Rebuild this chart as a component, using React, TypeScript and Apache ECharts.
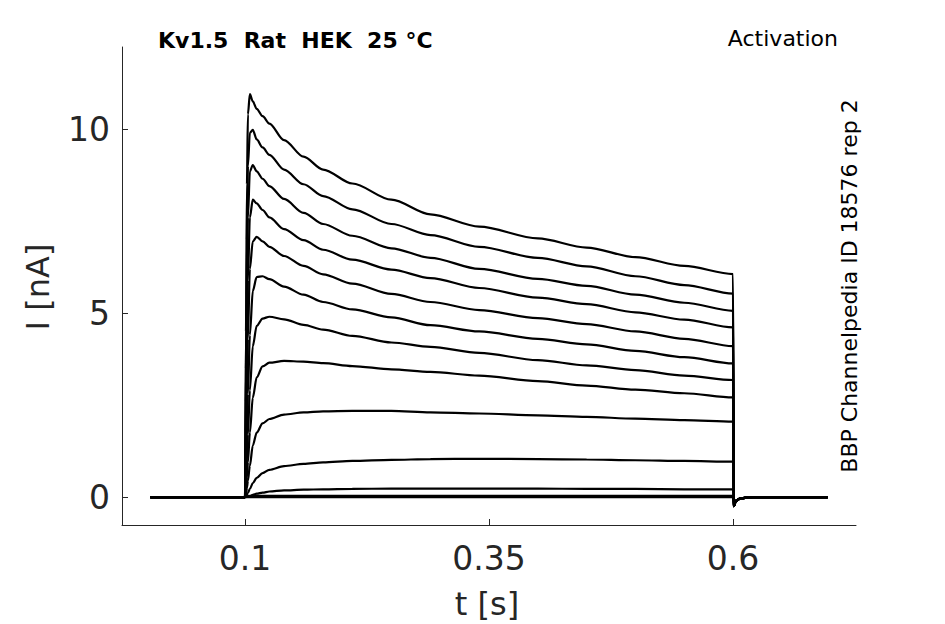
import React, { useEffect, useRef } from "react";
import * as echarts from "echarts";

// time samples during the voltage step (s)
const pulseTimes = [0.1, 0.101, 0.102, 0.103, 0.105, 0.108, 0.112, 0.118, 0.125, 0.14, 0.16, 0.18, 0.21, 0.25, 0.29, 0.34, 0.4, 0.45, 0.5, 0.55, 0.6];

// current traces (nA), one per step potential
const trace1 = [0, 4.5, 8.5, 10.4, 10.95, 10.75, 10.55, 10.35, 10.15, 9.7, 9.25, 8.9, 8.52, 8.08, 7.68, 7.35, 7.03, 6.78, 6.52, 6.28, 6.06];
const trace2 = [0, 3.5, 7.0, 9.0, 9.9, 9.98, 9.72, 9.5, 9.3, 8.9, 8.5, 8.18, 7.82, 7.42, 7.12, 6.8, 6.5, 6.27, 6.0, 5.76, 5.53];
const trace3 = [0, 2.6, 5.5, 7.6, 8.85, 9.02, 8.85, 8.65, 8.45, 8.1, 7.72, 7.42, 7.1, 6.76, 6.5, 6.2, 5.93, 5.74, 5.5, 5.28, 5.06];
const trace4 = [0, 1.8, 4.0, 5.9, 7.6, 8.08, 7.98, 7.8, 7.6, 7.28, 6.98, 6.72, 6.45, 6.18, 5.95, 5.68, 5.42, 5.24, 5.02, 4.82, 4.61];
const trace5 = [0, 1.2, 2.8, 4.3, 6.2, 6.95, 7.07, 6.95, 6.8, 6.55, 6.28, 6.05, 5.8, 5.52, 5.3, 5.08, 4.86, 4.7, 4.5, 4.3, 4.1];
const trace6 = [0, 0.7, 1.7, 2.8, 4.4, 5.6, 5.98, 6.0, 5.92, 5.72, 5.5, 5.3, 5.1, 4.88, 4.67, 4.5, 4.3, 4.15, 3.97, 3.8, 3.63];
const trace7 = [0, 0.4, 1.0, 1.7, 2.9, 4.1, 4.65, 4.85, 4.9, 4.83, 4.68, 4.55, 4.38, 4.2, 4.08, 3.92, 3.72, 3.58, 3.45, 3.3, 3.18];
const trace8 = [0, 0.2, 0.55, 0.95, 1.75, 2.7, 3.25, 3.55, 3.65, 3.7, 3.68, 3.64, 3.56, 3.47, 3.4, 3.3, 3.15, 3.03, 2.92, 2.82, 2.71];
const trace9 = [0, 0.08, 0.25, 0.45, 0.85, 1.4, 1.75, 2.0, 2.12, 2.24, 2.3, 2.33, 2.34, 2.34, 2.3, 2.27, 2.22, 2.18, 2.13, 2.09, 2.05];
const trace10 = [0, 0.02, 0.06, 0.11, 0.22, 0.38, 0.52, 0.65, 0.74, 0.84, 0.9, 0.94, 0.98, 1.01, 1.03, 1.04, 1.03, 1.02, 1.0, 0.98, 0.96];
const trace11 = [0, 0.0, 0.01, 0.02, 0.03, 0.06, 0.09, 0.12, 0.15, 0.18, 0.2, 0.21, 0.22, 0.23, 0.23, 0.23, 0.23, 0.22, 0.22, 0.21, 0.21];
const trace12 = [0, 0.01, 0.01, 0.02, 0.02, 0.03, 0.03, 0.03, 0.03, 0.03, 0.03, 0.03, 0.03, 0.03, 0.03, 0.03, 0.03, 0.03, 0.03, 0.03, 0.03];
const trace13 = [0, 0, 0, 0, 0, 0, 0, 0, 0, 0, 0, 0, 0, 0, 0, 0, 0, 0, 0, 0, 0];
const traces = [trace1, trace2, trace3, trace4, trace5, trace6, trace7, trace8, trace9, trace10, trace11, trace12, trace13];

// holding before the step
const preTimes = [0.003];
const preValues = [0];
// tail after the step back to holding
const tailTimes = [0.6008, 0.603, 0.608, 0.62, 0.697];
const tailValues = [-0.25, -0.1, -0.03, 0, 0];

const xTicks = [0.1, 0.35, 0.6];
const yTicks = [0, 5, 10];

const FONT = "DejaVu Sans";

export default function App() {
  const ref = useRef<HTMLDivElement>(null);
  useEffect(() => {
    if (!ref.current) return;
    const chart = echarts.init(ref.current, null, { renderer: "svg" });
    const series = traces.map((tr) => ({
      type: "line",
      showSymbol: false,
      symbol: "none",
      smooth: 0.3,
      smoothMonotone: "x",
      lineStyle: { color: "#000", width: 2.2 },
      data: [
        ...preTimes.map((t, i) => [t, preValues[i]]),
        ...pulseTimes.map((t, i) => [t, tr[i]]),
        ...tailTimes.map((t, i) => [t, tailValues[i]]),
      ],
    }));
    chart.setOption({
      animation: false,
      backgroundColor: "#fff",
      grid: { left: 122, right: 89, top: 47, bottom: 99 },
      xAxis: {
        type: "value",
        min: -0.026,
        max: 0.726,
        axisLine: { show: true, onZero: false, lineStyle: { color: "#262626", width: 1 } },
        axisTick: { show: true, inside: true, length: 6, customValues: xTicks, lineStyle: { color: "#262626" } },
        axisLabel: {
          customValues: xTicks,
          margin: 17,
          fontSize: 33,
          fontFamily: FONT,
          color: "#262626",
          formatter: (v: number) => String(v),
        },
        splitLine: { show: false },
      },
      yAxis: {
        type: "value",
        min: -0.76,
        max: 12.23,
        axisLine: { show: true, onZero: false, lineStyle: { color: "#262626", width: 1 } },
        axisTick: { show: true, inside: true, length: 6, customValues: yTicks, lineStyle: { color: "#262626" } },
        axisLabel: {
          customValues: yTicks,
          margin: 12,
          fontSize: 33,
          fontFamily: FONT,
          color: "#262626",
          formatter: (v: number) => String(v),
        },
        splitLine: { show: false },
      },
      graphic: [
        {
          type: "text",
          x: 158,
          y: 40,
          style: { text: "Kv1.5  Rat  HEK  25 °C", font: `bold 22px "${FONT}"`, fill: "#000", textVerticalAlign: "middle", textAlign: "left" },
        },
        {
          type: "text",
          x: 838,
          y: 38,
          style: { text: "Activation", font: `22px "${FONT}"`, fill: "#000", textVerticalAlign: "middle", textAlign: "right" },
        },
        {
          type: "text",
          x: 849,
          y: 286,
          rotation: Math.PI / 2,
          style: { text: "BBP Channelpedia ID 18576 rep 2", font: `22px "${FONT}"`, fill: "#000", textVerticalAlign: "middle", textAlign: "center" },
        },
        {
          type: "text",
          x: 38,
          y: 287,
          rotation: Math.PI / 2,
          style: { text: "I [nA]", font: `32px "${FONT}"`, fill: "#262626", textVerticalAlign: "middle", textAlign: "center" },
        },
        {
          type: "text",
          x: 487,
          y: 604,
          style: { text: "t [s]", font: `32px "${FONT}"`, fill: "#262626", textVerticalAlign: "middle", textAlign: "center" },
        },
      ],
      series,
    });
    return () => chart.dispose();
  }, []);
  return <div ref={ref} style={{ width: 945, height: 624, position: "absolute", left: 0, top: 0 }} />;
}
